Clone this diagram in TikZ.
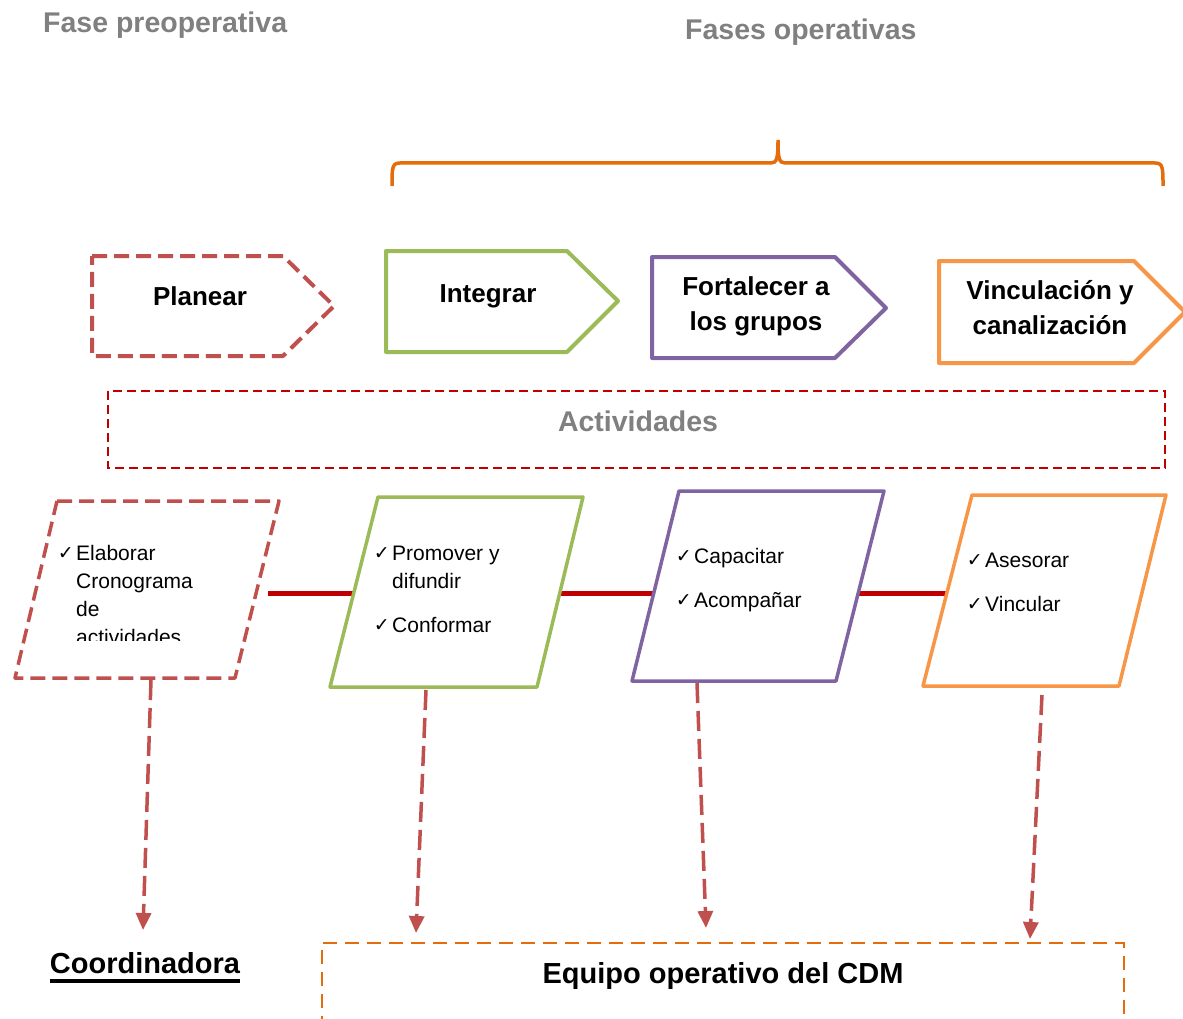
\documentclass[tikz,border=0pt]{standalone}
\usepackage{fontspec}
\setmainfont{Liberation Sans}
\newfontfamily\dejavu{DejaVu Sans}
\usetikzlibrary{arrows.meta}
\definecolor{cred}{HTML}{C0504D}
\definecolor{cgreen}{HTML}{9BBB59}
\definecolor{cpurple}{HTML}{8064A2}
\definecolor{corange}{HTML}{F79646}
\definecolor{cdorange}{HTML}{E46C0A}
\definecolor{cdred}{HTML}{C00000}
\definecolor{cgray}{HTML}{808080}
\tikzset{
  title/.style={font=\fontsize{28.5}{34}\selectfont\bfseries, text=cgray, inner sep=0},
  phase/.style={line width=4pt, line join=round, fill=white},
  plabel/.style={font=\fontsize{26}{35}\selectfont\bfseries, inner sep=0, align=center},
  para/.style={line width=3.5pt, line join=round, fill=white},
  act/.style={font=\fontsize{21}{28}\selectfont, anchor=base west, inner sep=0},
  chk/.style={font=\dejavu\fontsize{19}{22}\selectfont, anchor=base east, inner sep=0},
  link/.style={line width=5pt, cdred},
  down/.style={line width=3.5pt, cred, dash pattern=on 20pt off 8pt, -{Triangle[length=17pt,width=15pt]}},
  big/.style={font=\fontsize{29}{34}\selectfont\bfseries, inner sep=0, anchor=base}
}
\begin{document}
\begin{tikzpicture}[x=1pt,y=-1pt]
\useasboundingbox (0,0) rectangle (1183,1019);
% titles
\node[title, anchor=base west] (t1) at (43,33) {Fase preoperativa};
\node[title, anchor=base west] (t2) at (685,40) {Fases operativas};
% brace
\draw[cdorange, line width=3.5pt] (392,186) .. controls (392,168) and (392,163) .. (400,163) -- (771,163)
  .. controls (777,163) and (778,158) .. (778,140) .. controls (778,158) and (779,163) .. (785,163)
  -- (1155,163) .. controls (1163,163) and (1163,168) .. (1163,186);
% phase shapes
\draw[phase, draw=cred, dash pattern=on 15pt off 7pt] (92,256) -- (283,256) -- (334,306) -- (283,356) -- (92,356) -- cycle;
\node[plabel, anchor=base] (planear) at (200,305) {Planear};
\draw[phase, draw=cgreen] (386,251) -- (567,251) -- (618,301) -- (567,352) -- (386,352) -- cycle;
\node[plabel, anchor=base] (integrar) at (488,302) {Integrar};
\draw[phase, draw=cpurple] (652,257) -- (835,257) -- (886,308) -- (835,358) -- (652,358) -- cycle;
\node[plabel, anchor=base] (fort) at (756,330) {Fortalecer a\\los grupos};
\draw[phase, draw=corange] (939,261) -- (1134,261) -- (1185,312) -- (1134,363) -- (939,363) -- cycle;
\node[plabel, anchor=base] (vinc) at (1050,334) {Vinculación y\\canalización};
% activities banner
\draw[cdred, line width=2.5pt, dash pattern=on 9pt off 5pt] (108,391) rectangle (1165,468);
\node[title, anchor=base] (actv) at (638,431) {Actividades};
% connector lines
\coordinate (r1a) at (268,593);
\coordinate (r1b) at (360,593);
\coordinate (r2a) at (545,593);
\coordinate (r2b) at (665,593);
\coordinate (r3a) at (850,593);
\coordinate (r3b) at (955,593);
\draw[link] (r1a) -- (r1b);
\draw[link] (r2a) -- (r2b);
\draw[link] (r3a) -- (r3b);
% parallelograms
\draw[para, draw=cred, dash pattern=on 15pt off 7pt] (57,501) -- (279,501) -- (235,678) -- (15,678) -- cycle;
\draw[para, draw=cgreen] (378,497) -- (583,497) -- (537,687) -- (330,687) -- cycle;
\draw[para, draw=cpurple] (679,491) -- (884,491) -- (836,681) -- (632,681) -- cycle;
\draw[para, draw=corange] (972,495) -- (1166,495) -- (1119,686) -- (923,686) -- cycle;
% activity texts
\node[chk] (c1) at (74,559) {✓};
\node[act] (e1) at (76,560) {Elaborar};
\node[act] (e2) at (76,588) {Cronograma};
\node[act] (e3) at (76,616) {de};
\begin{scope}
\clip (0,480) rectangle (300,640);
\node[act] (e4) at (76,644) {actividades};
\end{scope}
\node[chk] (c2) at (390,559) {✓};
\node[act] (p1) at (392,560) {Promover y};
\node[act] (p2) at (392,588) {difundir};
\node[chk] (c3) at (390,631) {✓};
\node[act] (p3) at (392,632) {Conformar};
\node[chk] (c4) at (692,562) {✓};
\node[act] (f1) at (694,563) {Capacitar};
\node[chk] (c5) at (692,606) {✓};
\node[act] (f2) at (694,607) {Acompañar};
\node[chk] (c6) at (983,566) {✓};
\node[act] (v1) at (985,567) {Asesorar};
\node[chk] (c7) at (983,610) {✓};
\node[act] (v2) at (985,611) {Vincular};
% bottom
\draw[cdorange, line width=2.5pt, dash pattern=on 14pt off 8pt] (322,1030) -- (322,943) -- (1124,943) -- (1124,1030);
\node[big] (coord) at (145,973) {Coordinadora};
\draw[line width=3.5pt] ([yshift=-8pt]coord.base west) -- ([yshift=-8pt]coord.base east);
\node[big] (equipo) at (723,983) {Equipo operativo del CDM};
% dashed arrows
\coordinate (s1) at (151,680);
\coordinate (d1) at (143,930);
\coordinate (s2) at (426,690);
\coordinate (d2) at (416,933);
\coordinate (s3) at (697,683);
\coordinate (d3) at (706,928);
\coordinate (s4) at (1042,695);
\coordinate (d4) at (1030,939);
\draw[down] (s1) -- (d1);
\draw[down] (s2) -- (d2);
\draw[down] (s3) -- (d3);
\draw[down] (s4) -- (d4);
\end{tikzpicture}
\end{document}
